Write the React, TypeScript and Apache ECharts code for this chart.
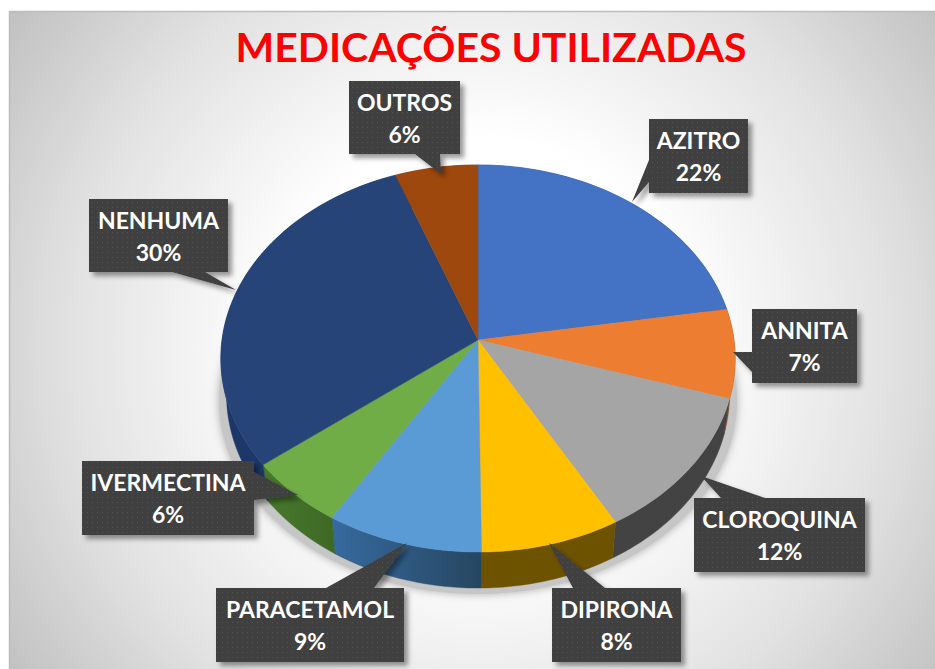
import React, { useEffect, useRef } from "react";
import * as echarts from "echarts";

const categories = ["AZITRO", "ANNITA", "CLOROQUINA", "DIPIRONA", "PARACETAMOL", "IVERMECTINA", "NENHUMA", "OUTROS"];
const values = [22.4, 7.4, 12, 8, 9, 5.7, 29.8, 5.7];
const topColors = ["#4472C4", "#ED7D31", "#A5A5A5", "#FFC000", "#5B9BD5", "#70AD47", "#264478", "#9E480E"];
const wallLeft = ["#2a4a85", "#8f4a1c", "#434343", "#6d5200", "#376a9f", "#487a2c", "#1c3768", "#5f2b08"];
const wallRight = ["#2a4a85", "#8f4a1c", "#434343", "#6d5200", "#264660", "#3d6825", "#1c3768", "#5f2b08"];
const titleText = "MEDICAÇÕES UTILIZADAS";

// Label boxes: left, top, right, bottom, tip x, tip y, side of tail, tail base from, to
const calloutBoxes: [number, number, number, number, number, number, string, number, number][] = [
  [649, 119, 748, 193, 632, 202, "left", 182, 160],
  [752, 309, 857, 383, 733, 352, "left", 372, 352],
  [694, 498, 865, 572, 701, 476, "top", 721, 765],
  [552, 588, 681, 662, 549, 543, "top", 573, 605],
  [216, 588, 404, 662, 407, 543, "top", 326, 374],
  [82, 461, 254, 535, 298, 495, "right", 472, 500],
  [89, 199, 228, 272, 236, 290, "bottom", 205, 172],
  [349, 81, 460, 154, 441, 174, "bottom", 440, 415],
];

const CX = 478;
const CY = 340;
const RX = 256;
const RY = 191.8;
const K = 0.0956;
const DEPTH = 36;
const WALL_SCALE = 0.978;

const total = values.reduce((a, b) => a + b, 0);

function project(turn: number): [number, number] {
  const a = turn * 2 * Math.PI;
  const u = Math.sin(a);
  const v = -Math.cos(a);
  const w = 1 - K * v;
  return [CX + (RX * u) / w, CY + (RY * v) / w];
}

function lower(p: [number, number]): [number, number] {
  return [CX + (p[0] - CX) * WALL_SCALE, p[1] + DEPTH];
}

function arc(from: number, to: number): [number, number][] {
  const n = Math.max(2, Math.ceil((to - from) * 240));
  const out: [number, number][] = [];
  for (let i = 0; i <= n; i++) out.push(project(from + ((to - from) * i) / n));
  return out;
}

function sliceRange(i: number): [number, number] {
  let s = 0;
  for (let j = 0; j < i; j++) s += values[j];
  return [s / total, (s + values[i]) / total];
}

function renderWall(params: any) {
  const i = params.dataIndex;
  const [a, b] = sliceRange(i);
  const top = arc(a, b);
  const pts = top.concat(top.map(lower).reverse());
  return {
    type: "polygon",
    shape: { points: pts },
    style: {
      fill: new echarts.graphic.LinearGradient(0, 0, 1, 0, [
        { offset: 0, color: wallLeft[i] },
        { offset: 1, color: wallRight[i] },
      ]),
      stroke: wallRight[i],
      lineWidth: 0.4,
    },
  };
}

function renderTop(params: any) {
  const i = params.dataIndex;
  const [a, b] = sliceRange(i);
  const pts: [number, number][] = [[CX, CY], ...arc(a, b)];
  return {
    type: "polygon",
    shape: { points: pts },
    style: { fill: topColors[i], stroke: topColors[i], lineWidth: 0.4 },
  };
}

function renderShadow() {
  const pts = arc(0, 1).map((p) => {
    const q = lower(p);
    return [CX + (q[0] - CX) * 1.03, q[1] + 6];
  });
  return {
    type: "polygon",
    shape: { points: pts },
    style: { fill: "#c6c6c6", shadowBlur: 8, shadowColor: "rgba(130,130,130,0.65)" },
  };
}

function tailPoints(b: (typeof calloutBoxes)[number]) {
  const [x0, y0, x1, y1, tx, ty, side, p, q] = b;
  const pts: [number, number][] = [[x0, y0]];
  if (side === "top") pts.push([p, y0], [tx, ty], [q, y0]);
  pts.push([x1, y0]);
  if (side === "right") pts.push([x1, p], [tx, ty], [x1, q]);
  pts.push([x1, y1]);
  if (side === "bottom") pts.push([p, y1], [tx, ty], [q, y1]);
  pts.push([x0, y1]);
  if (side === "left") pts.push([x0, p], [tx, ty], [x0, q]);
  return pts;
}

function makeDots(): HTMLCanvasElement {
  const c = document.createElement("canvas");
  c.width = 5;
  c.height = 5;
  const g = c.getContext("2d")!;
  g.fillStyle = "#3f3f3f";
  g.fillRect(0, 0, 5, 5);
  g.fillStyle = "#525252";
  g.fillRect(2, 2, 1, 1);
  return c;
}

export default function App() {
  const ref = useRef<HTMLDivElement>(null);
  useEffect(() => {
    const chart = echarts.init(ref.current!, undefined, { renderer: "svg" });
    const dots = makeDots();
    const graphics: any[] = [
      {
        type: "rect",
        z: 0,
        shape: { x: 9.5, y: 11.5, width: 935, height: 670 },
        style: {
          fill: new echarts.graphic.RadialGradient(480, 345, 570, [
            { offset: 0, color: "#ffffff" },
            { offset: 0.36, color: "#ffffff" },
            { offset: 0.72, color: "#e2e2e2" },
            { offset: 1, color: "#c2c2c2" },
          ], true),
          stroke: "#bdbdbd",
          lineWidth: 1.5,
        },
      },
      {
        type: "text",
        z: 1,
        x: 491,
        y: 46,
        style: {
          text: titleText,
          fill: "#ff0000",
          font: 'bold 41px Lato, "Open Sans", sans-serif',
          textAlign: "center",
          textVerticalAlign: "middle",
        },
      },
    ];
    calloutBoxes.forEach((b, i) => {
      graphics.push({
        type: "polygon",
        z: 10,
        shape: { points: tailPoints(b) },
        style: {
          fill: { image: dots, repeat: "repeat" },
          shadowBlur: 5,
          shadowOffsetX: 4,
          shadowOffsetY: 4,
          shadowColor: "rgba(0,0,0,0.4)",
        },
      });
      graphics.push({
        type: "text",
        z: 11,
        x: (b[0] + b[2]) / 2,
        y: (b[1] + b[3]) / 2,
        style: {
          text: `${categories[i]}\n${Math.round(values[i])}%`,
          fill: "#ffffff",
          font: 'bold 23px Lato, "Open Sans", sans-serif',
          lineHeight: 32,
          textAlign: "center",
          textVerticalAlign: "middle",
        },
      });
    });
    const seriesData = categories.map((name, i) => ({ name, value: values[i] }));
    chart.setOption({
      animation: false,
      graphic: { elements: graphics },
      series: [
        { type: "custom", coordinateSystem: "none", z: 2, silent: true, data: [1], renderItem: renderShadow },
        { type: "custom", coordinateSystem: "none", z: 3, silent: true, data: seriesData, renderItem: renderWall },
        { type: "custom", coordinateSystem: "none", z: 4, silent: true, data: seriesData, renderItem: renderTop },
      ],
    });
    return () => chart.dispose();
  }, []);
  return <div ref={ref} style={{ position: "absolute", left: 0, top: 0, width: 935, height: 669 }} />;
}
